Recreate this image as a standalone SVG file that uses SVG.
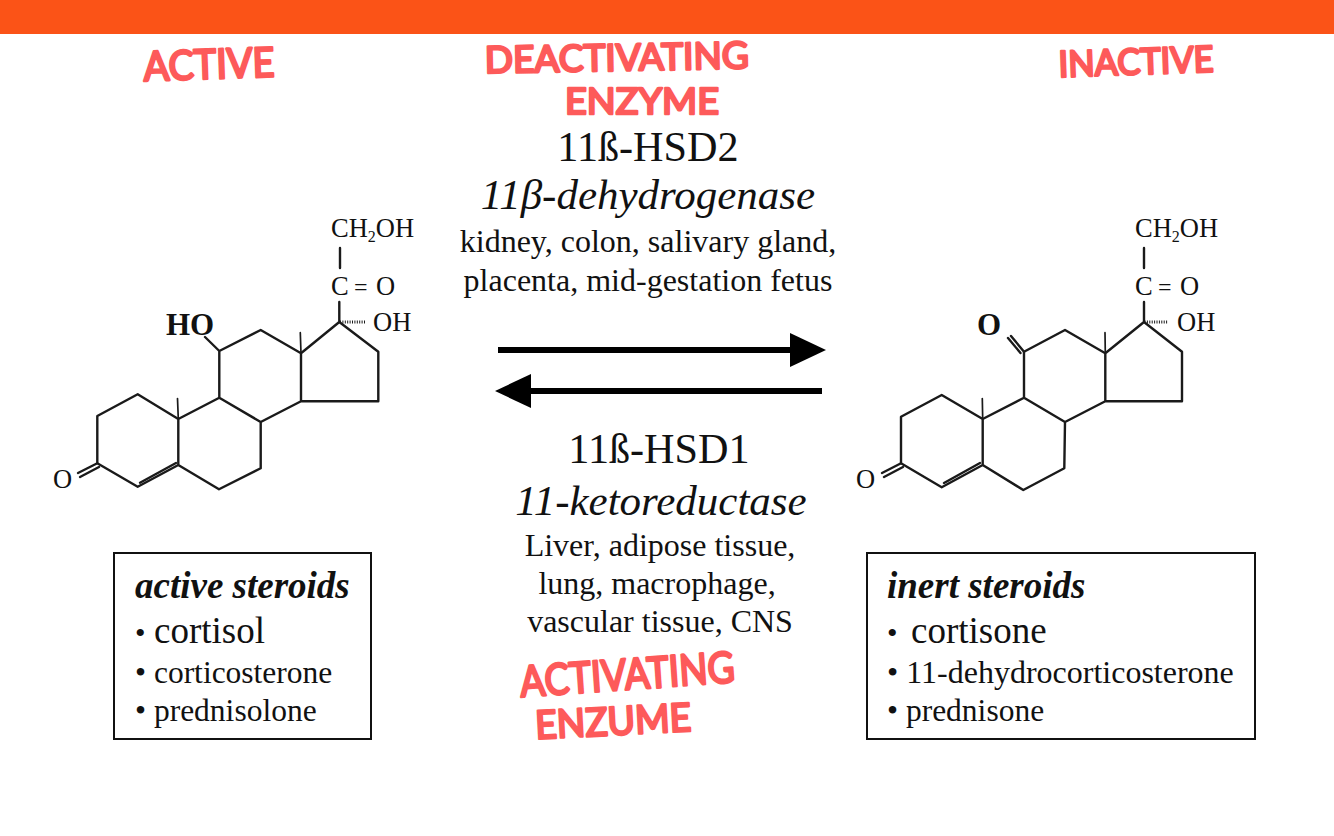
<svg xmlns="http://www.w3.org/2000/svg" width="1334" height="836" viewBox="0 0 1334 836">
<style>
text{font-family:"Liberation Serif","Times New Roman",serif;fill:#111}
.bond{fill:none;stroke:#1a1a1a;stroke-width:2.4;stroke-linejoin:round;stroke-linecap:round}
.thin{stroke-width:1.7}
.hash{fill:none;stroke:#1a1a1a;stroke-width:3;stroke-dasharray:1 1.4}
.lab{font-size:26.5px}
.t1{font-size:42.2px}
.t2{font-size:43px;font-style:italic}
.t3{font-size:32px}
.box{fill:#fff;stroke:#111;stroke-width:2}
.hd{font-size:37px;font-weight:bold;font-style:italic}
.big{font-size:37px}
.t4{font-size:31.5px}
.hand{font-family:"Lato","Liberation Sans",sans-serif;font-weight:400;fill:#fd5a5a;stroke:#fd5a5a;stroke-width:2.6;stroke-linejoin:round;stroke-linecap:round}
.arr{stroke:#000;stroke-width:6;fill:none}
</style>
<defs>
<marker id="head" markerUnits="userSpaceOnUse" markerWidth="36" markerHeight="34" refX="0" refY="17" orient="auto"><path d="M0 0L36 17L0 34Z" fill="#000"/></marker>
</defs>
<rect id="top-bar" x="0" y="0" width="1334" height="34" fill="#fb5317"/>

<g id="label-active"><text class="hand" x="144" y="81" font-size="41" textLength="131" lengthAdjust="spacingAndGlyphs" transform="rotate(-2 144 81)">ACTIVE</text></g>
<g id="label-deactivating"><text class="hand" x="485" y="73" font-size="37" textLength="264" lengthAdjust="spacingAndGlyphs" transform="rotate(-1 485 73)">DEACTIVATING</text><text class="hand" x="565" y="114" font-size="37" textLength="154" lengthAdjust="spacingAndGlyphs">ENZYME</text></g>
<g id="label-inactive"><text class="hand" x="1059" y="77" font-size="36" textLength="155" lengthAdjust="spacingAndGlyphs" transform="rotate(-2 1059 77)">INACTIVE</text></g>
<g id="label-activating"><text class="hand" x="521" y="697" font-size="43" textLength="215" lengthAdjust="spacingAndGlyphs" transform="rotate(-4 521 697)">ACTIVATING</text><text class="hand" x="536" y="739" font-size="39" textLength="156" lengthAdjust="spacingAndGlyphs" transform="rotate(-3 536 739)">ENZUME</text></g>

<g id="molecule-active">
<path class="bond" d="M97.3 463.3V416L137.7 394.3L178.3 419V465L137.7 486.7L97.3 463.3M178.3 419L219.3 397.7L260.7 422V468.3L219 489.3L178.3 465M219.3 397.7V351L260.7 330L301 353.3V401.3L260.7 422M301 401.3H378.3V351.7L339.3 322L301 353.3M219.3 351L205 337M339.3 322V302M340 248V268"/>
<path class="bond" d="M97.3 463.3L78 473M99 467L80 477M140 482.7L176 463"/>
<path class="bond thin" d="M178.3 419L177.5 398.5M301 353.3L300.3 332.7"/>
<path class="hash" d="M340 322H365"/>
<text class="lab" x="331" y="237">CH<tspan font-size="16" dy="5">2</tspan><tspan dy="-5">OH</tspan></text>
<text class="lab" x="331" y="295">C</text><text class="lab" x="354" y="295" style="font-size:24px">=</text><text class="lab" x="376" y="295">O</text>
<text class="lab" x="373" y="331">OH</text>
<text x="166" y="335" font-size="31" font-weight="bold">HO</text>
<text class="lab" x="53" y="488">O</text>
</g>

<g id="molecule-inactive">
<path class="bond" d="M901 463.3V416.7L941.7 395L982.7 419V465L941.7 487.3L901 463.3M982.7 419L1024 397.7L1065 422L1064.3 468.3L1023.3 490L982.7 465M1024 397.7V351.7L1065 330L1105.3 353.3V401.3L1065 422M1105.3 401.3H1182V351.7L1144 322L1105.3 353.3M1144 322V302M1144 248V268"/>
<path class="bond" d="M1024 351.7L1011 336M1020.5 353L1008 338M901 463.3L882 473M903 467L884 477M944 483L980 463"/>
<path class="bond thin" d="M982.7 419L982.3 398.5M1105.3 353.3L1105 332.7"/>
<path class="hash" d="M1144.5 322H1168"/>
<text class="lab" x="1135" y="237">CH<tspan font-size="16" dy="5">2</tspan><tspan dy="-5">OH</tspan></text>
<text class="lab" x="1135" y="295">C</text><text class="lab" x="1158" y="295" style="font-size:24px">=</text><text class="lab" x="1180" y="295">O</text>
<text class="lab" x="1177" y="331">OH</text>
<text x="977" y="335" font-size="31" font-weight="bold">O</text>
<text class="lab" x="856" y="488">O</text>
</g>

<g id="enzyme-hsd2" text-anchor="middle">
<text class="t1" x="648" y="161">11ß-HSD2</text>
<text class="t2" x="648" y="209">11β-dehydrogenase</text>
<text class="t3" x="648" y="252">kidney, colon, salivary gland,</text>
<text class="t3" x="648" y="291">placenta, mid-gestation fetus</text>
</g>

<g id="connectors">
<path class="arr" d="M498 350H790" marker-end="url(#head)"/>
<path class="arr" d="M822 391H531" marker-end="url(#head)"/>
</g>

<g id="enzyme-hsd1" text-anchor="middle">
<text class="t1" x="659" y="463">11ß-HSD1</text>
<text class="t2" x="661" y="515">11-ketoreductase</text>
<text class="t3" x="660" y="556">Liver, adipose tissue,</text>
<text class="t3" x="657" y="594">lung, macrophage,</text>
<text class="t3" x="660" y="632">vascular tissue, CNS</text>
</g>

<g id="box-active">
<rect class="box" x="114" y="553" width="257" height="186"/>
<text class="hd" x="135" y="598">active steroids</text>
<text class="big" x="135" y="643"><tspan font-size="30">•</tspan><tspan x="154">cortisol</tspan></text>
<text class="t4" x="135" y="683">• corticosterone</text>
<text class="t4" x="135" y="721">• prednisolone</text>
</g>

<g id="box-inert">
<rect class="box" x="867" y="553" width="388" height="186"/>
<text class="hd" x="887" y="598">inert steroids</text>
<text class="big" x="887" y="643"><tspan font-size="30">•</tspan><tspan x="911">cortisone</tspan></text>
<text class="t3" x="887" y="683">• 11-dehydrocorticosterone</text>
<text class="t4" x="887" y="721">• prednisone</text>
</g>
</svg>
